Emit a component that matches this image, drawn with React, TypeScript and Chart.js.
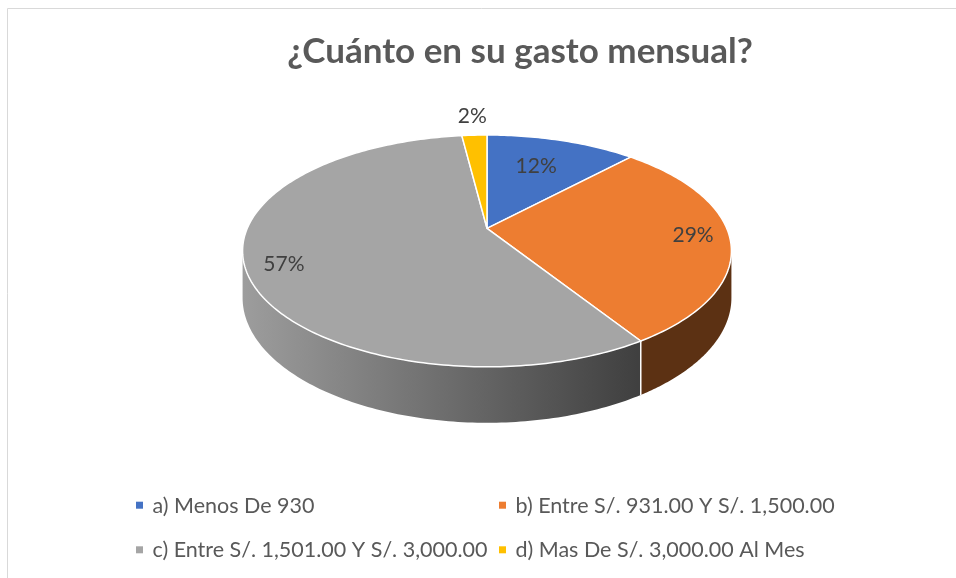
import React, { useEffect, useRef } from "react";
import { Chart, registerables } from "chart.js";

Chart.register(...registerables);

const title = "¿Cuánto en su gasto mensual?";
const categories = [
  "a) Menos De 930",
  "b) Entre S/. 931.00 Y S/. 1,500.00",
  "c) Entre S/. 1,501.00 Y S/. 3,000.00",
  "d) Mas De S/. 3,000.00 Al Mes",
];
const values = [12, 29, 57, 2];
const colors = ["#4472C4", "#ED7D31", "#A5A5A5", "#FFC000"];

const W = 956;
const H = 578;
// pie geometry (style constants)
const CX = 487;
const CY = 228.3;
const RY = 111.5;
const ASPECT = 2.15;
const K = 0.195; // perspective factor
const DEPTH = 0.404; // depth relative to RY
const FONT = "Lato, 'Open Sans', sans-serif";

function hexToRgb(h: string) {
  const v = parseInt(h.slice(1), 16);
  return [(v >> 16) & 255, (v >> 8) & 255, v & 255];
}
function shade(h: string, f: number) {
  const [r, g, b] = hexToRgb(h);
  return `rgb(${Math.round(r * f)},${Math.round(g * f)},${Math.round(b * f)})`;
}

function geometry(chart: any) {
  const arcs = chart.getDatasetMeta(0).data as any[];
  const a0 = arcs[0];
  const cx = a0.x;
  const cy = a0.y;
  const ry = a0.outerRadius;
  const rx = ry * ASPECT;
  const d = ry * DEPTH;
  const proj = (t: number, r: number, dz: number) => {
    const u = r * Math.sin(t);
    const v = r * Math.cos(t);
    const w = 1 + K * v;
    return [cx + (rx * u) / w, cy - (ry * v) / w + dz / w];
  };
  return { arcs, cx, cy, rx, ry, d, proj };
}

const pie3d = {
  id: "pie3d",
  beforeDatasetsDraw(chart: any) {
    const ctx = chart.ctx as CanvasRenderingContext2D;
    const { arcs, cx, rx, d, proj } = geometry(chart);
    const tR = Math.acos(-K);
    const tL = 2 * Math.PI - tR;
    const xL = cx - rx / Math.sqrt(1 - K * K);
    const xG = cx + rx * 0.625;
    const N = 120;
    ctx.save();
    // side walls
    arcs.forEach((arc: any) => {
      const s = arc.startAngle + Math.PI / 2;
      const e = arc.endAngle + Math.PI / 2;
      const a = Math.max(s, tR);
      const b = Math.min(e, tL);
      if (a >= b) return;
      const base = arc.options.backgroundColor as string;
      const g = ctx.createLinearGradient(xL, 0, xG, 0);
      g.addColorStop(0, shade(base, 0.95));
      g.addColorStop(1, shade(base, 0.39));
      ctx.beginPath();
      for (let j = 0; j <= N; j++) {
        const t = a + ((b - a) * j) / N;
        const [x, y] = proj(t, 1, 0);
        if (j === 0) ctx.moveTo(x, y);
        else ctx.lineTo(x, y);
      }
      for (let j = N; j >= 0; j--) {
        const t = a + ((b - a) * j) / N;
        const [x, y] = proj(t, 1, d);
        ctx.lineTo(x, y);
      }
      ctx.closePath();
      ctx.fillStyle = g;
      ctx.fill();
    });
    // wall separators
    ctx.strokeStyle = "#ffffff";
    ctx.lineWidth = 1.5;
    arcs.forEach((arc: any) => {
      const s = arc.startAngle + Math.PI / 2;
      if (s > tR && s < tL) {
        const [x1, y1] = proj(s, 1, 0);
        const [x2, y2] = proj(s, 1, d);
        ctx.beginPath();
        ctx.moveTo(x1, y1);
        ctx.lineTo(x2, y2);
        ctx.stroke();
      }
    });
    // top faces
    arcs.forEach((arc: any) => {
      const s = arc.startAngle + Math.PI / 2;
      const e = arc.endAngle + Math.PI / 2;
      const [c0x, c0y] = proj(0, 0, 0);
      ctx.beginPath();
      ctx.moveTo(c0x, c0y);
      const n = Math.max(4, Math.ceil(((e - s) / (2 * Math.PI)) * 360));
      for (let j = 0; j <= n; j++) {
        const t = s + ((e - s) * j) / n;
        const [x, y] = proj(t, 1, 0);
        ctx.lineTo(x, y);
      }
      ctx.closePath();
      ctx.fillStyle = arc.options.backgroundColor;
      ctx.fill();
      ctx.lineJoin = "round";
      ctx.strokeStyle = "#ffffff";
      ctx.lineWidth = 1.5;
      ctx.stroke();
    });
    ctx.restore();
    return false;
  },
  afterDraw(chart: any) {
    const ctx = chart.ctx as CanvasRenderingContext2D;
    const { arcs, proj } = geometry(chart);
    const total = values.reduce((p, c) => p + c, 0);
    ctx.save();
    // frame
    ctx.strokeStyle = "#d9d9d9";
    ctx.lineWidth = 1;
    ctx.beginPath();
    ctx.moveTo(7.5, H);
    ctx.lineTo(7.5, 8.5);
    ctx.lineTo(W, 8.5);
    ctx.stroke();
    // title
    ctx.fillStyle = "#595959";
    ctx.font = `bold 35px ${FONT}`;
    ctx.textAlign = "center";
    ctx.textBaseline = "alphabetic";
    ctx.fillText(title, 520, 63);
    // data labels
    ctx.font = `21px ${FONT}`;
    ctx.fillStyle = "#404040";
    ctx.textBaseline = "middle";
    arcs.forEach((arc: any, i: number) => {
      const pct = values[i] / total;
      const mid = (arc.startAngle + arc.endAngle) / 2 + Math.PI / 2;
      const r = pct < 0.05 ? 1.2 : pct < 0.2 ? 0.62 : 0.85;
      const [x, y] = proj(mid, r, 0);
      const near = Math.max(0, -Math.cos(mid));
      ctx.fillText(`${Math.round(pct * 100)}%`, x, y - 4 + near * 18);
    });
    // legend
    ctx.font = `21.5px ${FONT}`;
    ctx.textAlign = "left";
    ctx.textBaseline = "alphabetic";
    const colX = [136, 499];
    const rowY = [512.7, 557.3];
    categories.forEach((c, i) => {
      const x = colX[i % 2];
      const y = rowY[Math.floor(i / 2)];
      ctx.fillStyle = colors[i];
      ctx.fillRect(x, y - 11, 7, 7);
      ctx.fillStyle = "#595959";
      ctx.fillText(c, x + 16.5, y);
    });
    ctx.restore();
  },
};

export default function App() {
  const ref = useRef<HTMLCanvasElement | null>(null);
  useEffect(() => {
    if (!ref.current) return;
    const chart = new Chart(ref.current, {
      type: "pie",
      data: {
        labels: categories,
        datasets: [
          {
            data: values,
            backgroundColor: colors,
            borderColor: "#ffffff",
            borderWidth: 1.5,
          },
        ],
      },
      options: {
        animation: false,
        responsive: false,
        devicePixelRatio: 1,
        events: [],
        radius: RY,
        layout: {
          padding: {
            left: CX - RY,
            right: W - CX - RY,
            top: CY - RY,
            bottom: H - CY - RY,
          },
        },
        plugins: {
          legend: { display: false },
          title: { display: false },
          tooltip: { enabled: false },
        },
      } as any,
      plugins: [pie3d as any],
    });
    return () => chart.destroy();
  }, []);
  return (
    <div style={{ position: "fixed", left: 0, top: 0, width: W, height: H, background: "#fff" }}>
      <canvas ref={ref} width={W} height={H} style={{ display: "block", width: W, height: H }} />
    </div>
  );
}
